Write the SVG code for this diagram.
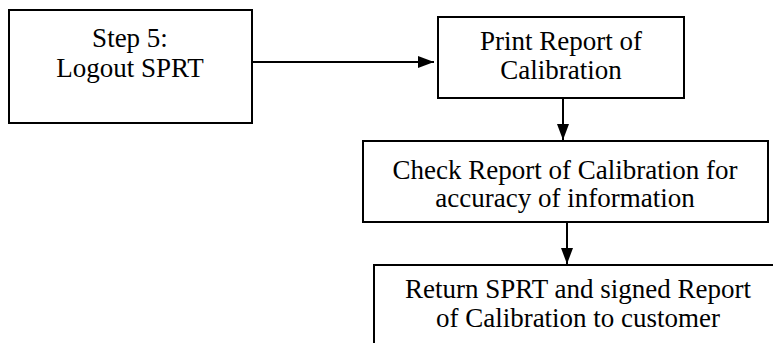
<svg xmlns="http://www.w3.org/2000/svg" width="773" height="343" viewBox="0 0 773 343">
<style>
.box{fill:#fff;stroke:#000;stroke-width:2}
.t{font-family:'Liberation Serif','Times New Roman',Times,'DejaVu Serif',serif;font-size:27px;fill:#000;text-anchor:middle}
.c{stroke:#000;stroke-width:2;fill:none}
</style>
<defs>
<marker id="ah" viewBox="0 0 16 12" refX="16" refY="6" markerWidth="16" markerHeight="12" markerUnits="userSpaceOnUse" orient="auto">
<path d="M0,0 L16,6 L0,12 Z" fill="#000"/>
</marker>
</defs>
<rect width="773" height="343" fill="#fff"/>
<g id="connectors">
<line class="c" x1="253" y1="62" x2="434" y2="62" marker-end="url(#ah)"/>
<line class="c" x1="563" y1="99" x2="563" y2="140" marker-end="url(#ah)"/>
<line class="c" x1="567" y1="223" x2="567" y2="264" marker-end="url(#ah)"/>
</g>
<g id="n1">
<rect class="box" x="9" y="10" width="243" height="113"/>
<text class="t" x="130" y="47">Step 5:</text>
<text class="t" x="130" y="77">Logout SPRT</text>
</g>
<g id="n2">
<rect class="box" x="438" y="17" width="246" height="81"/>
<text class="t" x="561" y="50">Print Report of</text>
<text class="t" x="561" y="79">Calibration</text>
</g>
<g id="n3">
<rect class="box" x="363" y="141" width="405" height="81"/>
<text class="t" x="565" y="179">Check Report of Calibration for</text>
<text class="t" x="565" y="207">accuracy of information</text>
</g>
<g id="n4">
<rect class="box" x="374" y="265" width="410" height="100"/>
<text class="t" x="578" y="298">Return SPRT and signed Report</text>
<text class="t" x="578" y="327">of Calibration to customer</text>
</g>
</svg>
